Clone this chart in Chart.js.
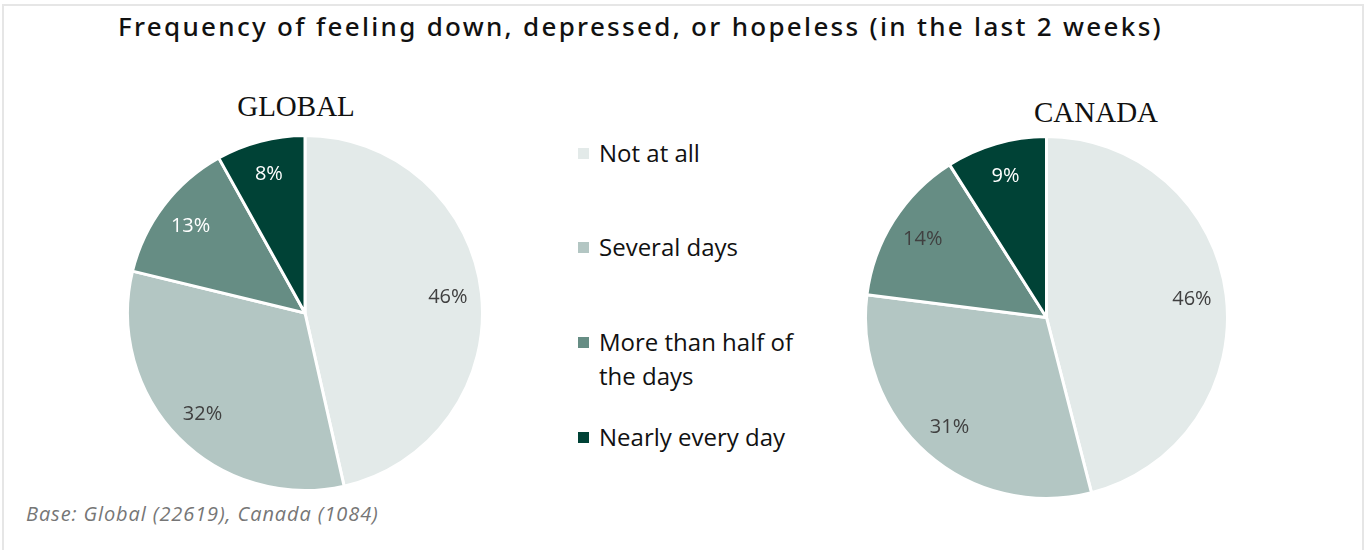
<!DOCTYPE html>
<html>
<head>
<meta charset="utf-8">
<script src="https://cdn.jsdelivr.net/npm/chart.js@4/dist/chart.umd.min.js"></script>
<style>
    body { margin: 0; width: 1369px; height: 550px; background: #fff; position: relative; overflow: hidden; }
    .frame { position: absolute; left: 2px; top: 4px; width: 1358px; height: 600px; border: 2px solid #e6e6e6; border-bottom: none; }
    .title { position: absolute; left: 0; width: 1281px; top: 8px; text-align: center; font-family: "Noto Sans", sans-serif; font-weight: 500; font-size: 26px; letter-spacing: 2.3px; color: #111; white-space: nowrap; }
    .pie_title { position: absolute; font-family: "Liberation Serif", serif; font-size: 29px; color: #111; text-align: center; width: 200px; }
    .pie_box { position: absolute; }
    #legend { position: absolute; left: 578px; top: 136px; width: 230px; font-family: "Open Sans", sans-serif; font-size: 24px; color: #111; }
    #legend .item { position: absolute; left: 0; width: 230px; line-height: 34px; padding-left: 21px; box-sizing: border-box; }
    #legend .box { position: absolute; left: 0; width: 11px; height: 11px; }
    .note { position: absolute; left: 26px; top: 504px; line-height: 20px; font-family: "Open Sans", sans-serif; font-style: italic; font-size: 20px; letter-spacing: 0.9px; color: #767676; white-space: nowrap; }
</style>
</head>
<body>
<div class="frame"></div>
<div class="title">Frequency of feeling down, depressed, or hopeless (in the last 2 weeks)</div>
<div class="pie_title" style="left:196px; top:90px;">GLOBAL</div>
<div class="pie_title" style="left:996px; top:96px;">CANADA</div>
<div class="pie_box" style="left:126px; top:134px; width:358px; height:358px;"><canvas id="global_chart"></canvas></div>
<div class="pie_box" style="left:864px; top:135px; width:365px; height:365px;"><canvas id="canada_chart"></canvas></div>
<div id="legend"></div>
<div class="note">Base: Global (22619), Canada (1084)</div>
<script>
const categorias = ['Not at all', 'Several days', 'More than half of the days', 'Nearly every day'];
const globalValores = [46, 32, 13, 8];
const canadaValores = [46, 31, 14, 9];
const cores = ['#e3eae9', '#b3c6c3', '#668d84', '#004236'];
const globalCoresRotulo = ['#404040', '#404040', '#ffffff', '#ffffff'];
const canadaCoresRotulo = ['#404040', '#404040', '#404040', '#ffffff'];

// rótulos de porcentagem dentro das fatias
const rotulosPlugin = {
    id: 'rotulos',
    afterDatasetsDraw(chart) {
        const ctx = chart.ctx;
        const dataset = chart.data.datasets[0];
        const meta = chart.getDatasetMeta(0);
        ctx.save();
        ctx.font = '20px "Open Sans"';
        ctx.textAlign = 'center';
        ctx.textBaseline = 'middle';
        meta.data.forEach((arc, i) => {
            const { x, y, startAngle, endAngle, outerRadius } = arc.getProps(['x', 'y', 'startAngle', 'endAngle', 'outerRadius'], true);
            const meio = (startAngle + endAngle) / 2;
            const r = outerRadius * 0.81;
            ctx.fillStyle = dataset.labelColors[i];
            ctx.fillText(dataset.data[i] + '%', x + Math.cos(meio) * r, y + Math.sin(meio) * r);
        });
        ctx.restore();
    }
};

function criarPizza(id, valores, coresRotulo) {
    const ctx = document.getElementById(id).getContext('2d');
    return new Chart(ctx, {
        type: 'pie',
        data: {
            labels: categorias,
            datasets: [{
                data: valores,
                backgroundColor: cores,
                borderColor: '#ffffff',
                borderWidth: 3,
                labelColors: coresRotulo
            }]
        },
        options: {
            responsive: true,
            maintainAspectRatio: false,
            animation: false,
            layout: { padding: 0 },
            plugins: { legend: { display: false }, tooltip: { enabled: false } }
        },
        plugins: [rotulosPlugin]
    });
}

function montarLegenda() {
    const legend = document.getElementById('legend');
    const tops = [0, 94, 189, 284];
    categorias.forEach((nome, i) => {
        const item = document.createElement('div');
        item.className = 'item';
        item.style.top = tops[i] + 'px';
        item.innerHTML = `<span class="box" style="background:${cores[i]}; top:${12}px;"></span>${nome}`;
        legend.appendChild(item);
    });
}

criarPizza('global_chart', globalValores, globalCoresRotulo);
criarPizza('canada_chart', canadaValores, canadaCoresRotulo);
montarLegenda();
</script>
</body>
</html>
